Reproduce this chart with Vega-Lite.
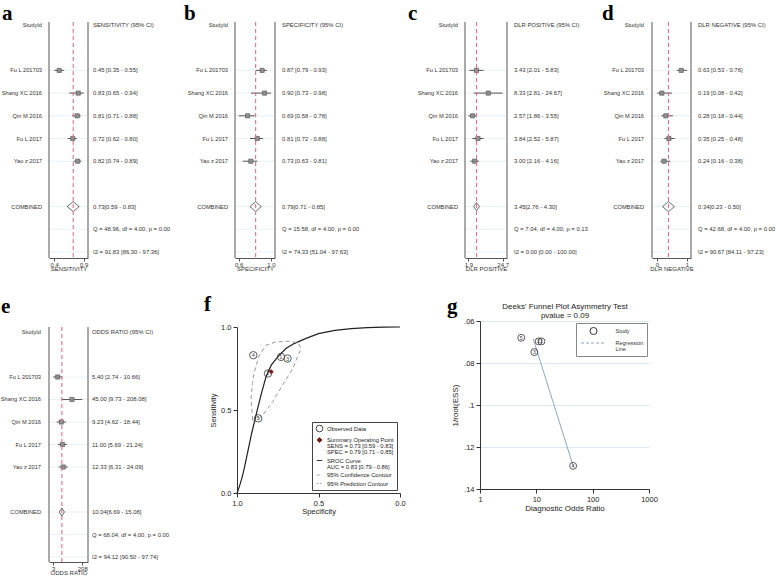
{
"$schema":"https://vega.github.io/schema/vega-lite/v6.json",
"padding":{"left":0,"top":2,"right":0,"bottom":0},
"bounds":"flush",
"columns":4,
"align":"each",
"spacing":{"row":63,"column":0},
"resolve":{"scale":{"color":"independent"},"legend":{"color":"independent"}},
"config":{"view":{"stroke":null},"font":"Liberation Sans",
 "title":{"font":"Liberation Serif","fontSize":21,"fontWeight":"bold","color":"#000"},
 "axis":{"labelFont":"Liberation Sans","titleFont":"Liberation Sans","titleFontWeight":"normal","labelColor":"#333","titleColor":"#333","domainColor":"#555","tickColor":"#555","grid":false,"labelFlush":false,"labelOverlap":false}},
"datasets":{
"a":[{"row":0,"kind":"header","name":"StudyId","txt":"SENSITIVITY (95% CI)"},
{"row":2,"kind":"study","name":"Fu L 201703","est":0.45,"lo":0.35,"hi":0.55,"txt":"0.45 [0.35 - 0.55]"},
{"row":3,"kind":"study","name":"Shang XC 2016","est":0.83,"lo":0.65,"hi":0.94,"txt":"0.83 [0.65 - 0.94]"},
{"row":4,"kind":"study","name":"Qin M 2016","est":0.81,"lo":0.71,"hi":0.88,"txt":"0.81 [0.71 - 0.88]"},
{"row":5,"kind":"study","name":"Fu L 2017","est":0.72,"lo":0.62,"hi":0.80,"txt":"0.72 [0.62 - 0.80]"},
{"row":6,"kind":"study","name":"Yao z 2017","est":0.82,"lo":0.74,"hi":0.89,"txt":"0.82 [0.74 - 0.89]"},
{"row":8,"kind":"combined","name":"COMBINED","est":0.73,"lo":0.59,"hi":0.83,"txt":"0.73[0.59 - 0.83]"},
{"row":9,"kind":"stat","name":"","txt":"Q = 48.96, df = 4.00, p =  0.00"},
{"row":10,"kind":"stat","name":"","txt":"I2 = 91.83 [86.30 - 97.36]"}],
"b":[{"row":0,"kind":"header","name":"StudyId","txt":"SPECIFICITY (95% CI)"},
{"row":2,"kind":"study","name":"Fu L 201703","est":0.87,"lo":0.79,"hi":0.93,"txt":"0.87 [0.79 - 0.93]"},
{"row":3,"kind":"study","name":"Shang XC 2016","est":0.90,"lo":0.73,"hi":0.98,"txt":"0.90 [0.73 - 0.98]"},
{"row":4,"kind":"study","name":"Qin M 2016","est":0.69,"lo":0.58,"hi":0.78,"txt":"0.69 [0.58 - 0.78]"},
{"row":5,"kind":"study","name":"Fu L 2017","est":0.81,"lo":0.72,"hi":0.88,"txt":"0.81 [0.72 - 0.88]"},
{"row":6,"kind":"study","name":"Yao z 2017","est":0.73,"lo":0.63,"hi":0.81,"txt":"0.73 [0.63 - 0.81]"},
{"row":8,"kind":"combined","name":"COMBINED","est":0.79,"lo":0.71,"hi":0.85,"txt":"0.79[0.71 - 0.85]"},
{"row":9,"kind":"stat","name":"","txt":"Q = 15.58, df = 4.00, p =  0.00"},
{"row":10,"kind":"stat","name":"","txt":"I2 = 74.33 [51.04 - 97.63]"}],
"c":[{"row":0,"kind":"header","name":"StudyId","txt":"DLR POSITIVE (95% CI)"},
{"row":2,"kind":"study","name":"Fu L 201703","est":3.43,"lo":2.01,"hi":5.83,"txt":"3.43 [2.01 - 5.83]"},
{"row":3,"kind":"study","name":"Shang XC 2016","est":8.33,"lo":2.81,"hi":24.67,"txt":"8.33 [2.81 - 24.67]"},
{"row":4,"kind":"study","name":"Qin M 2016","est":2.57,"lo":1.86,"hi":3.55,"txt":"2.57 [1.86 - 3.55]"},
{"row":5,"kind":"study","name":"Fu L 2017","est":3.84,"lo":2.52,"hi":5.87,"txt":"3.84 [2.52 - 5.87]"},
{"row":6,"kind":"study","name":"Yao z 2017","est":3.00,"lo":2.16,"hi":4.16,"txt":"3.00 [2.16 - 4.16]"},
{"row":8,"kind":"combined","name":"COMBINED","est":3.45,"lo":2.76,"hi":4.30,"txt":"3.45[2.76 - 4.30]"},
{"row":9,"kind":"stat","name":"","txt":"Q =  7.04, df = 4.00, p =  0.13"},
{"row":10,"kind":"stat","name":"","txt":"I2 = 0.00 [0.00 - 100.00]"}],
"d":[{"row":0,"kind":"header","name":"StudyId","txt":"DLR NEGATIVE (95% CI)"},
{"row":2,"kind":"study","name":"Fu L 201703","est":0.63,"lo":0.53,"hi":0.76,"txt":"0.63 [0.53 - 0.76]"},
{"row":3,"kind":"study","name":"Shang XC 2016","est":0.19,"lo":0.08,"hi":0.42,"txt":"0.19 [0.08 - 0.42]"},
{"row":4,"kind":"study","name":"Qin M 2016","est":0.28,"lo":0.18,"hi":0.44,"txt":"0.28 [0.18 - 0.44]"},
{"row":5,"kind":"study","name":"Fu L 2017","est":0.35,"lo":0.25,"hi":0.48,"txt":"0.35 [0.25 - 0.48]"},
{"row":6,"kind":"study","name":"Yao z 2017","est":0.24,"lo":0.16,"hi":0.38,"txt":"0.24 [0.16 - 0.38]"},
{"row":8,"kind":"combined","name":"COMBINED","est":0.34,"lo":0.23,"hi":0.50,"txt":"0.34[0.23 - 0.50]"},
{"row":9,"kind":"stat","name":"","txt":"Q = 42.68, df = 4.00, p =  0.00"},
{"row":10,"kind":"stat","name":"","txt":"I2 = 90.67 [84.11 - 97.23]"}],
"e":[{"row":0,"kind":"header","name":"StudyId","txt":"ODDS RATIO (95% CI)"},
{"row":2,"kind":"study","name":"Fu L 201703","est":5.40,"lo":2.74,"hi":10.66,"txt":"5.40 [2.74 - 10.66]"},
{"row":3,"kind":"study","name":"Shang XC 2016","est":45.00,"lo":9.73,"hi":208.08,"txt":"45.00 [9.73 - 208.08]"},
{"row":4,"kind":"study","name":"Qin M 2016","est":9.23,"lo":4.62,"hi":18.44,"txt":"9.23 [4.62 - 18.44]"},
{"row":5,"kind":"study","name":"Fu L 2017","est":11.00,"lo":5.69,"hi":21.24,"txt":"11.00 [5.69 - 21.24]"},
{"row":6,"kind":"study","name":"Yao z 2017","est":12.33,"lo":6.31,"hi":24.09,"txt":"12.33 [6.31 - 24.09]"},
{"row":8,"kind":"combined","name":"COMBINED","est":10.04,"lo":6.69,"hi":15.08,"txt":"10.04[6.69 - 15.08]"},
{"row":9,"kind":"stat","name":"","txt":"Q = 68.04, df = 4.00, p =  0.00"},
{"row":10,"kind":"stat","name":"","txt":"I2 = 94.12 [90.50 - 97.74]"}],
"f_obs":[{"spec":0.87,"sens":0.45,"lab":"5"},{"spec":0.90,"sens":0.83,"lab":"4"},{"spec":0.69,"sens":0.81,"lab":"3"},{"spec":0.81,"sens":0.72,"lab":"2"},{"spec":0.73,"sens":0.82,"lab":"1"}],
"f_sum":[{"spec":0.79,"sens":0.73}],
"f_sroc":[{"spec":1.0,"sens":0.0},{"spec":0.985,"sens":0.04},{"spec":0.97,"sens":0.09},{"spec":0.955,"sens":0.15},{"spec":0.94,"sens":0.22},{"spec":0.925,"sens":0.29},{"spec":0.91,"sens":0.36},{"spec":0.883,"sens":0.47},{"spec":0.853,"sens":0.59},{"spec":0.822,"sens":0.70},{"spec":0.79,"sens":0.77},{"spec":0.75,"sens":0.82},{"spec":0.70,"sens":0.87},{"spec":0.65,"sens":0.90},{"spec":0.58,"sens":0.93},{"spec":0.50,"sens":0.96},{"spec":0.40,"sens":0.98},{"spec":0.30,"sens":0.99},{"spec":0.20,"sens":0.996},{"spec":0.10,"sens":0.999},{"spec":0.0,"sens":1.0}],
"f_conf":[{"i":0,"spec":0.904,"sens":0.44},{"i":1,"spec":0.914,"sens":0.57},{"i":2,"spec":0.905,"sens":0.66},{"i":3,"spec":0.894,"sens":0.73},{"i":4,"spec":0.863,"sens":0.83},{"i":5,"spec":0.822,"sens":0.89},{"i":6,"spec":0.761,"sens":0.91},{"i":7,"spec":0.679,"sens":0.915},{"i":8,"spec":0.625,"sens":0.905},{"i":9,"spec":0.607,"sens":0.87},{"i":10,"spec":0.658,"sens":0.75},{"i":11,"spec":0.72,"sens":0.65},{"i":12,"spec":0.781,"sens":0.55},{"i":13,"spec":0.842,"sens":0.47},{"i":14,"spec":0.883,"sens":0.434},{"i":15,"spec":0.904,"sens":0.44}],
"g_pts":[{"dor":5.40,"ess":0.068,"lab":"5"},{"dor":45.0,"ess":0.129,"lab":"4"},{"dor":9.23,"ess":0.0748,"lab":"3"},{"dor":11.0,"ess":0.0697,"lab":"2"},{"dor":12.33,"ess":0.0697,"lab":"1"}],
"g_reg":[{"dor":8.8,"ess":0.0685},{"dor":45.0,"ess":0.129}]
},
"concat":[
  {"title":{"text":"a","anchor":"start","frame":"group","dx":-47,"offset":-2.5},
   "width":186,"height":236,"data":{"name":"a"},"resolve":{"axis":{"x":"independent","y":"independent"}},
   "layer":[
    {"transform":[{"filter":"datum.kind != 'header'"}],"mark":{"type":"rule","color":"#e4edf4","strokeWidth":0.8},"encoding":{"x":{"datum":0.245,"type":"quantitative","scale":{"domain":[0.245,1.026],"range":[0,39],"nice":false,"zero":false},"axis":null},"x2":{"datum":1.026},"y":{"field":"row","type":"quantitative","scale":{"domain":[-0.132,10.264],"range":[0,236],"nice":false,"zero":false},"axis":null}}},
    {"transform":[{"filter":"datum.kind == 'header'"}],"mark":{"type":"rule","color":"#555","strokeWidth":1},"encoding":{"x":{"datum":0.245,"type":"quantitative","axis":null},"y":{"datum":-0.132,"type":"quantitative","axis":null},"y2":{"datum":10.264}}},
    {"transform":[{"filter":"datum.kind == 'header'"}],"mark":{"type":"rule","color":"#555","strokeWidth":1},"encoding":{"x":{"datum":1.026,"type":"quantitative","axis":null},"y":{"datum":-0.132,"type":"quantitative","axis":null},"y2":{"datum":10.264}}},
    {"transform":[{"filter":"datum.kind == 'study'"}],"mark":{"type":"rule","color":"#555","strokeWidth":1},"encoding":{"x":{"field":"lo","type":"quantitative","axis":{"orient":"bottom","values":[0.35,0.94],"labelExpr":"datum.value < 0.5 ? '0.4' : '0.9'","title":"SENSITIVITY","tickSize":3,"labelFontSize":6,"titleFontSize":6,"labelPadding":0,"titlePadding":-1.5}},"x2":{"field":"hi"},"y":{"field":"row","type":"quantitative","axis":null}}},
    {"transform":[{"filter":"datum.kind == 'study'"}],"mark":{"type":"point","shape":"square","filled":true,"size":18,"fill":"#8e8e8e","stroke":"#555","strokeWidth":0.6,"opacity":1},"encoding":{"x":{"field":"est","type":"quantitative","axis":null},"y":{"field":"row","type":"quantitative","axis":null}}},
    {"transform":[{"filter":"datum.kind == 'combined'"}],"mark":{"type":"point","shape":"M-1,0L0,-0.83L1,0L0,0.83Z","filled":false,"size":144,"stroke":"#444","strokeWidth":0.8,"opacity":1},"encoding":{"x":{"field":"est","type":"quantitative","axis":null},"y":{"field":"row","type":"quantitative","axis":null}}},
    {"transform":[{"filter":"datum.kind == 'combined'"}],"mark":{"type":"rule","color":"#d9728a","strokeDash":[4,3],"strokeWidth":1.1},"encoding":{"x":{"field":"est","type":"quantitative","axis":null},"y":{"datum":-0.132,"type":"quantitative","axis":null},"y2":{"datum":10.264}}},
    {"mark":{"type":"text","align":"right","baseline":"middle","dx":-7,"fontSize":5.7,"color":"#333"},"encoding":{"x":{"datum":0.245,"type":"quantitative","axis":null},"y":{"field":"row","type":"quantitative","axis":null},"text":{"field":"name"}}},
    {"mark":{"type":"text","align":"left","baseline":"middle","dx":5,"fontSize":5.9,"color":"#333"},"encoding":{"x":{"datum":1.026,"type":"quantitative","axis":null},"y":{"field":"row","type":"quantitative","axis":null},"text":{"field":"txt"}}}
   ]},
  {"title":{"text":"b","anchor":"start","frame":"group","dx":-51,"offset":-2.5},
   "width":230,"height":236,"data":{"name":"b"},"resolve":{"axis":{"x":"independent","y":"independent"}},
   "layer":[
    {"transform":[{"filter":"datum.kind != 'header'"}],"mark":{"type":"rule","color":"#e4edf4","strokeWidth":0.8},"encoding":{"x":{"datum":0.534,"type":"quantitative","scale":{"domain":[0.534,1.03],"range":[0,40],"nice":false,"zero":false},"axis":null},"x2":{"datum":1.03},"y":{"field":"row","type":"quantitative","scale":{"domain":[-0.132,10.264],"range":[0,236],"nice":false,"zero":false},"axis":null}}},
    {"transform":[{"filter":"datum.kind == 'header'"}],"mark":{"type":"rule","color":"#555","strokeWidth":1},"encoding":{"x":{"datum":0.534,"type":"quantitative","axis":null},"y":{"datum":-0.132,"type":"quantitative","axis":null},"y2":{"datum":10.264}}},
    {"transform":[{"filter":"datum.kind == 'header'"}],"mark":{"type":"rule","color":"#555","strokeWidth":1},"encoding":{"x":{"datum":1.03,"type":"quantitative","axis":null},"y":{"datum":-0.132,"type":"quantitative","axis":null},"y2":{"datum":10.264}}},
    {"transform":[{"filter":"datum.kind == 'study'"}],"mark":{"type":"rule","color":"#555","strokeWidth":1},"encoding":{"x":{"field":"lo","type":"quantitative","axis":{"orient":"bottom","values":[0.58,0.98],"format":".1f","title":"SPECIFICITY","tickSize":3,"labelFontSize":6,"titleFontSize":6,"labelPadding":0,"titlePadding":-1.5}},"x2":{"field":"hi"},"y":{"field":"row","type":"quantitative","axis":null}}},
    {"transform":[{"filter":"datum.kind == 'study'"}],"mark":{"type":"point","shape":"square","filled":true,"size":18,"fill":"#8e8e8e","stroke":"#555","strokeWidth":0.6,"opacity":1},"encoding":{"x":{"field":"est","type":"quantitative","axis":null},"y":{"field":"row","type":"quantitative","axis":null}}},
    {"transform":[{"filter":"datum.kind == 'combined'"}],"mark":{"type":"point","shape":"M-1,0L0,-0.88L1,0L0,0.88Z","filled":false,"size":128,"stroke":"#444","strokeWidth":0.8,"opacity":1},"encoding":{"x":{"field":"est","type":"quantitative","axis":null},"y":{"field":"row","type":"quantitative","axis":null}}},
    {"transform":[{"filter":"datum.kind == 'combined'"}],"mark":{"type":"rule","color":"#d9728a","strokeDash":[4,3],"strokeWidth":1.1},"encoding":{"x":{"field":"est","type":"quantitative","axis":null},"y":{"datum":-0.132,"type":"quantitative","axis":null},"y2":{"datum":10.264}}},
    {"mark":{"type":"text","align":"right","baseline":"middle","dx":-7,"fontSize":5.7,"color":"#333"},"encoding":{"x":{"datum":0.534,"type":"quantitative","axis":null},"y":{"field":"row","type":"quantitative","axis":null},"text":{"field":"name"}}},
    {"mark":{"type":"text","align":"left","baseline":"middle","dx":7,"fontSize":5.9,"color":"#333"},"encoding":{"x":{"datum":1.03,"type":"quantitative","axis":null},"y":{"field":"row","type":"quantitative","axis":null},"text":{"field":"txt"}}}
   ]},
  {"title":{"text":"c","anchor":"start","frame":"group","dx":-57,"offset":-2.5},
   "width":187,"height":236,"data":{"name":"c"},"resolve":{"axis":{"x":"independent","y":"independent"}},
   "layer":[
    {"transform":[{"filter":"datum.kind != 'header'"}],"mark":{"type":"rule","color":"#e4edf4","strokeWidth":0.8},"encoding":{"x":{"datum":1.451,"type":"quantitative","scale":{"type":"log","domain":[1.451,34.08],"range":[0,42],"nice":false},"axis":null},"x2":{"datum":34.08},"y":{"field":"row","type":"quantitative","scale":{"domain":[-0.132,10.264],"range":[0,236],"nice":false,"zero":false},"axis":null}}},
    {"transform":[{"filter":"datum.kind == 'header'"}],"mark":{"type":"rule","color":"#555","strokeWidth":1},"encoding":{"x":{"datum":1.451,"type":"quantitative","axis":null},"y":{"datum":-0.132,"type":"quantitative","axis":null},"y2":{"datum":10.264}}},
    {"transform":[{"filter":"datum.kind == 'header'"}],"mark":{"type":"rule","color":"#555","strokeWidth":1},"encoding":{"x":{"datum":34.08,"type":"quantitative","axis":null},"y":{"datum":-0.132,"type":"quantitative","axis":null},"y2":{"datum":10.264}}},
    {"transform":[{"filter":"datum.kind == 'study'"}],"mark":{"type":"rule","color":"#555","strokeWidth":1},"encoding":{"x":{"field":"lo","type":"quantitative","axis":{"orient":"bottom","values":[1.86,24.67],"format":".1f","title":"DLR POSITIVE","tickSize":3,"labelFontSize":6,"titleFontSize":6,"labelPadding":0,"titlePadding":-1.5}},"x2":{"field":"hi"},"y":{"field":"row","type":"quantitative","axis":null}}},
    {"transform":[{"filter":"datum.kind == 'study'"}],"mark":{"type":"point","shape":"square","filled":true,"size":18,"fill":"#8e8e8e","stroke":"#555","strokeWidth":0.6,"opacity":1},"encoding":{"x":{"field":"est","type":"quantitative","axis":null},"y":{"field":"row","type":"quantitative","axis":null}}},
    {"transform":[{"filter":"datum.kind == 'combined'"}],"mark":{"type":"point","shape":"M-0.74,0L0,-1L0.74,0L0,1Z","filled":false,"size":64,"stroke":"#444","strokeWidth":0.8,"opacity":1},"encoding":{"x":{"field":"est","type":"quantitative","axis":null},"y":{"field":"row","type":"quantitative","axis":null}}},
    {"transform":[{"filter":"datum.kind == 'combined'"}],"mark":{"type":"rule","color":"#d9728a","strokeDash":[4,3],"strokeWidth":1.1},"encoding":{"x":{"field":"est","type":"quantitative","axis":null},"y":{"datum":-0.132,"type":"quantitative","axis":null},"y2":{"datum":10.264}}},
    {"mark":{"type":"text","align":"right","baseline":"middle","dx":-7,"fontSize":5.7,"color":"#333"},"encoding":{"x":{"datum":1.451,"type":"quantitative","axis":null},"y":{"field":"row","type":"quantitative","axis":null},"text":{"field":"name"}}},
    {"mark":{"type":"text","align":"left","baseline":"middle","dx":7,"fontSize":5.9,"color":"#333"},"encoding":{"x":{"datum":34.08,"type":"quantitative","axis":null},"y":{"field":"row","type":"quantitative","axis":null},"text":{"field":"txt"}}}
   ]},
  {"title":{"text":"d","anchor":"start","frame":"group","dx":-50,"offset":-2.5},
   "width":39,"height":236,"data":{"name":"d"},"resolve":{"axis":{"x":"independent","y":"independent"}},
   "layer":[
    {"transform":[{"filter":"datum.kind != 'header'"}],"mark":{"type":"rule","color":"#e4edf4","strokeWidth":0.8},"encoding":{"x":{"datum":-0.033,"type":"quantitative","scale":{"domain":[-0.033,0.851],"range":[0,39],"nice":false,"zero":false},"axis":null},"x2":{"datum":0.851},"y":{"field":"row","type":"quantitative","scale":{"domain":[-0.132,10.264],"range":[0,236],"nice":false,"zero":false},"axis":null}}},
    {"transform":[{"filter":"datum.kind == 'header'"}],"mark":{"type":"rule","color":"#555","strokeWidth":1},"encoding":{"x":{"datum":-0.033,"type":"quantitative","axis":null},"y":{"datum":-0.132,"type":"quantitative","axis":null},"y2":{"datum":10.264}}},
    {"transform":[{"filter":"datum.kind == 'header'"}],"mark":{"type":"rule","color":"#555","strokeWidth":1},"encoding":{"x":{"datum":0.851,"type":"quantitative","axis":null},"y":{"datum":-0.132,"type":"quantitative","axis":null},"y2":{"datum":10.264}}},
    {"transform":[{"filter":"datum.kind == 'study'"}],"mark":{"type":"rule","color":"#555","strokeWidth":1},"encoding":{"x":{"field":"lo","type":"quantitative","axis":{"orient":"bottom","values":[0.08,0.76],"format":".0f","title":"DLR NEGATIVE","tickSize":3,"labelFontSize":6,"titleFontSize":6,"labelPadding":0,"titlePadding":-1.5}},"x2":{"field":"hi"},"y":{"field":"row","type":"quantitative","axis":null}}},
    {"transform":[{"filter":"datum.kind == 'study'"}],"mark":{"type":"point","shape":"square","filled":true,"size":18,"fill":"#8e8e8e","stroke":"#555","strokeWidth":0.6,"opacity":1},"encoding":{"x":{"field":"est","type":"quantitative","axis":null},"y":{"field":"row","type":"quantitative","axis":null}}},
    {"transform":[{"filter":"datum.kind == 'combined'"}],"mark":{"type":"point","shape":"M-1,0L0,-0.84L1,0L0,0.84Z","filled":false,"size":142,"stroke":"#444","strokeWidth":0.8,"opacity":1},"encoding":{"x":{"field":"est","type":"quantitative","axis":null},"y":{"field":"row","type":"quantitative","axis":null}}},
    {"transform":[{"filter":"datum.kind == 'combined'"}],"mark":{"type":"rule","color":"#d9728a","strokeDash":[4,3],"strokeWidth":1.1},"encoding":{"x":{"field":"est","type":"quantitative","axis":null},"y":{"datum":-0.132,"type":"quantitative","axis":null},"y2":{"datum":10.264}}},
    {"mark":{"type":"text","align":"right","baseline":"middle","dx":-8,"fontSize":5.7,"color":"#333"},"encoding":{"x":{"datum":-0.033,"type":"quantitative","axis":null},"y":{"field":"row","type":"quantitative","axis":null},"text":{"field":"name"}}},
    {"mark":{"type":"text","align":"left","baseline":"middle","dx":7,"fontSize":5.9,"color":"#333"},"encoding":{"x":{"datum":0.851,"type":"quantitative","axis":null},"y":{"field":"row","type":"quantitative","axis":null},"text":{"field":"txt"}}}
   ]},
  {"title":{"text":"e","anchor":"start","frame":"group","dx":-48,"offset":4.5},
   "width":186,"height":241,"data":{"name":"e"},"resolve":{"axis":{"x":"independent","y":"independent"}},
   "layer":[
    {"transform":[{"filter":"datum.kind != 'header'"}],"mark":{"type":"rule","color":"#e4edf4","strokeWidth":0.8},"encoding":{"x":{"datum":1.49,"type":"quantitative","scale":{"type":"log","domain":[1.49,488.7],"range":[0,39],"nice":false},"axis":null},"x2":{"datum":488.7},"y":{"field":"row","type":"quantitative","scale":{"domain":[-0.222,10.222],"range":[6,241],"nice":false,"zero":false},"axis":null}}},
    {"transform":[{"filter":"datum.kind == 'header'"}],"mark":{"type":"rule","color":"#555","strokeWidth":1},"encoding":{"x":{"datum":1.49,"type":"quantitative","axis":null},"y":{"datum":-0.222,"type":"quantitative","axis":null},"y2":{"datum":10.222}}},
    {"transform":[{"filter":"datum.kind == 'header'"}],"mark":{"type":"rule","color":"#555","strokeWidth":1},"encoding":{"x":{"datum":488.7,"type":"quantitative","axis":null},"y":{"datum":-0.222,"type":"quantitative","axis":null},"y2":{"datum":10.222}}},
    {"transform":[{"filter":"datum.kind == 'study'"}],"mark":{"type":"rule","color":"#555","strokeWidth":1},"encoding":{"x":{"field":"lo","type":"quantitative","axis":{"orient":"bottom","values":[2.74,208.08],"format":".0f","title":"ODDS RATIO","tickSize":3,"labelFontSize":6,"titleFontSize":6,"labelPadding":0,"titlePadding":-1.5}},"x2":{"field":"hi"},"y":{"field":"row","type":"quantitative","axis":null}}},
    {"transform":[{"filter":"datum.kind == 'study'"}],"mark":{"type":"point","shape":"square","filled":true,"size":18,"fill":"#8e8e8e","stroke":"#555","strokeWidth":0.6,"opacity":1},"encoding":{"x":{"field":"est","type":"quantitative","axis":null},"y":{"field":"row","type":"quantitative","axis":null}}},
    {"transform":[{"filter":"datum.kind == 'combined'"}],"mark":{"type":"point","shape":"M-0.66,0L0,-1L0.66,0L0,1Z","filled":false,"size":64,"stroke":"#444","strokeWidth":0.8,"opacity":1},"encoding":{"x":{"field":"est","type":"quantitative","axis":null},"y":{"field":"row","type":"quantitative","axis":null}}},
    {"transform":[{"filter":"datum.kind == 'combined'"}],"mark":{"type":"rule","color":"#d9728a","strokeDash":[4,3],"strokeWidth":1.1},"encoding":{"x":{"field":"est","type":"quantitative","axis":null},"y":{"datum":-0.222,"type":"quantitative","axis":null},"y2":{"datum":10.222}}},
    {"mark":{"type":"text","align":"right","baseline":"middle","dx":-8,"fontSize":5.7,"color":"#333"},"encoding":{"x":{"datum":1.49,"type":"quantitative","axis":null},"y":{"field":"row","type":"quantitative","axis":null},"text":{"field":"name"}}},
    {"mark":{"type":"text","align":"left","baseline":"middle","dx":4,"fontSize":5.9,"color":"#333"},"encoding":{"x":{"datum":488.7,"type":"quantitative","axis":null},"y":{"field":"row","type":"quantitative","axis":null},"text":{"field":"txt"}}}
   ]},
  {"title":{"text":"f","anchor":"start","frame":"group","dx":-31,"offset":6.5},
   "width":165,"height":172,"resolve":{"axis":{"x":"independent","y":"independent"}},
   "layer":[
    {"data":{"name":"f_sroc"},"mark":{"type":"line","strokeWidth":1.2},"encoding":{"x":{"field":"spec","type":"quantitative","scale":{"domain":[0,1],"range":[165,2],"nice":false,"zero":false},"axis":{"orient":"bottom","values":[0,0.5,1],"format":".1f","title":"Specificity","tickSize":4,"labelFontSize":7.5,"titleFontSize":7.5,"labelPadding":2,"titlePadding":1,"domainColor":"#333","tickColor":"#333","labelColor":"#222","titleColor":"#222"}},"y":{"field":"sens","type":"quantitative","scale":{"domain":[0,1],"range":[172,6],"nice":false,"zero":false},"axis":{"orient":"left","values":[0,0.5,1],"format":".1f","title":"Sensitivity","offset":-2,"tickSize":4,"labelFontSize":7.5,"titleFontSize":7.5,"labelPadding":2,"titlePadding":3,"domainColor":"#333","tickColor":"#333","labelColor":"#222","titleColor":"#222"}},
      "color":{"datum":"SROC Curve","type":"nominal","scale":{"domain":["Observed Data","Summary Operating Point","SROC Curve","95% Confidence Contour","95% Prediction Contour"],"range":["#333","#7a1f1f","#222","#999","#999"]},
       "legend":{"title":null,"orient":"bottom-right","offset":3,"strokeColor":"#444","fillColor":"white","padding":3,"rowPadding":1.5,"labelFontSize":5.8,"labelLimit":200,"labelColor":"#222","symbolSize":30,"symbolStrokeWidth":0.9,"symbolOffset":1,
        "labelExpr":"datum.label == 'Summary Operating Point' ? ['Summary Operating Point','SENS = 0.73 [0.59 - 0.83]','SPEC = 0.79 [0.71 - 0.85]'] : datum.label == 'SROC Curve' ? ['SROC Curve','AUC = 0.83 [0.79 - 0.86]'] : datum.label",
        "encode":{"labels":{"update":{"lineHeight":{"value":6}}},"symbols":{"update":{
          "shape":{"signal":"datum.value == 'Observed Data' ? 'circle' : datum.value == 'Summary Operating Point' ? 'diamond' : 'stroke'"},
          "size":{"signal":"datum.value == 'Observed Data' ? 45 : datum.value == 'Summary Operating Point' ? 25 : 30"},
          "fill":{"signal":"datum.value == 'Summary Operating Point' ? '#7a1f1f' : 'white'"},
          "fillOpacity":{"signal":"datum.value == 'Summary Operating Point' ? 1 : 0"},
          "stroke":{"signal":"datum.value == 'Summary Operating Point' ? '#7a1f1f' : datum.value == 'Observed Data' ? '#222' : datum.value == 'SROC Curve' ? '#222' : '#888'"},
          "strokeDash":{"signal":"datum.value == '95% Confidence Contour' ? [3,2] : datum.value == '95% Prediction Contour' ? [1.5,1.5] : []"}}}}}}}},
    {"data":{"name":"f_conf"},"mark":{"type":"line","strokeWidth":1,"strokeDash":[4,3]},"encoding":{"x":{"field":"spec","type":"quantitative","axis":null},"y":{"field":"sens","type":"quantitative","axis":null},"order":{"field":"i","type":"quantitative"},"color":{"datum":"95% Confidence Contour","type":"nominal","legend":null}}},
    {"data":{"name":"f_obs"},"mark":{"type":"point","shape":"circle","filled":false,"size":55,"strokeWidth":0.8,"opacity":1},"encoding":{"x":{"field":"spec","type":"quantitative","axis":null},"y":{"field":"sens","type":"quantitative","axis":null},"color":{"datum":"Observed Data","type":"nominal","legend":null}}},
    {"data":{"name":"f_obs"},"mark":{"type":"text","fontSize":5,"color":"#333","baseline":"middle"},"encoding":{"x":{"field":"spec","type":"quantitative","axis":null},"y":{"field":"sens","type":"quantitative","axis":null},"text":{"field":"lab"}}},
    {"data":{"name":"f_sum"},"mark":{"type":"point","shape":"diamond","filled":true,"size":25,"opacity":1},"encoding":{"x":{"field":"spec","type":"quantitative","axis":null},"y":{"field":"sens","type":"quantitative","axis":null},"color":{"datum":"Summary Operating Point","type":"nominal","legend":null}}}
   ]},
  {"title":{"text":"g","anchor":"start","frame":"group","dx":-18,"offset":-14.5},
   "width":184,"height":168,
   "resolve":{"axis":{"x":"independent","y":"independent"}},
   "layer":[
    {"data":{"name":"g_reg"},"mark":{"type":"line","strokeWidth":1},"encoding":{"x":{"field":"dor","type":"quantitative","scale":{"type":"log","domain":[1,1000],"range":[15,184],"nice":false},"axis":{"orient":"bottom","values":[1,10,100,1000],"format":"d","title":"Diagnostic Odds Ratio","tickSize":4,"labelFontSize":7.5,"titleFontSize":8,"labelPadding":2,"titlePadding":2,"domainColor":"#333","tickColor":"#333","labelColor":"#222","titleColor":"#222"}},"y":{"field":"ess","type":"quantitative","scale":{"domain":[0.06,0.14],"reverse":true,"nice":false,"zero":false},"axis":{"orient":"left","values":[0.06,0.08,0.1,0.12,0.14],"labelExpr":"replace(format(datum.value,'.2~f'),'0.','.')","title":"1/root(ESS)","offset":-15,"grid":true,"gridColor":"#d3e3ee","gridWidth":0.8,"tickSize":4,"labelFontSize":7.5,"titleFontSize":8,"labelPadding":2,"titlePadding":4,"domainColor":"#333","tickColor":"#333","labelColor":"#222","titleColor":"#222"}},
      "color":{"datum":"Regression Line","type":"nominal","scale":{"domain":["Study","Regression Line"],"range":["#333","#8ea7bf"]},
       "legend":{"title":null,"orient":"top-right","offset":2,"strokeColor":"#888","fillColor":"white","padding":3,"rowPadding":1,"labelFontSize":5.5,"labelColor":"#333","labelLimit":200,"symbolStrokeWidth":1,"symbolSize":50,"symbolOffset":9.5,"labelOffset":17,
        "labelExpr":"datum.label == 'Regression Line' ? ['Regression','Line'] : datum.label",
        "encode":{"labels":{"update":{"lineHeight":{"value":6}}},"symbols":{"update":{
          "shape":{"signal":"datum.value == 'Study' ? 'circle' : 'M-3,0L3,0'"},
          "size":{"signal":"datum.value == 'Study' ? 50 : 69"},
          "fill":{"value":"transparent"},
          "stroke":{"signal":"datum.value == 'Study' ? '#222' : '#8ea7bf'"},
          "strokeDash":{"signal":"datum.value == 'Study' ? [] : [3,2]"}}}}}}}},
    {"data":{"name":"g_pts"},"mark":{"type":"point","shape":"circle","filled":false,"size":48,"strokeWidth":0.8,"opacity":1},"encoding":{"x":{"field":"dor","type":"quantitative","axis":null},"y":{"field":"ess","type":"quantitative","axis":null},"color":{"datum":"Study","type":"nominal","legend":null}}},
    {"data":{"name":"g_pts"},"mark":{"type":"text","fontSize":5,"color":"#333","baseline":"middle"},"encoding":{"x":{"field":"dor","type":"quantitative","axis":{"orient":"top","labels":false,"ticks":false,"domain":false,"title":["Deeks' Funnel Plot Asymmetry Test","pvalue =   0.09"],"titleFontSize":8,"titleColor":"#222","titleLineHeight":9,"titlePadding":2}},"y":{"field":"ess","type":"quantitative","axis":null},"text":{"field":"lab"}}}
   ]}
]
}
